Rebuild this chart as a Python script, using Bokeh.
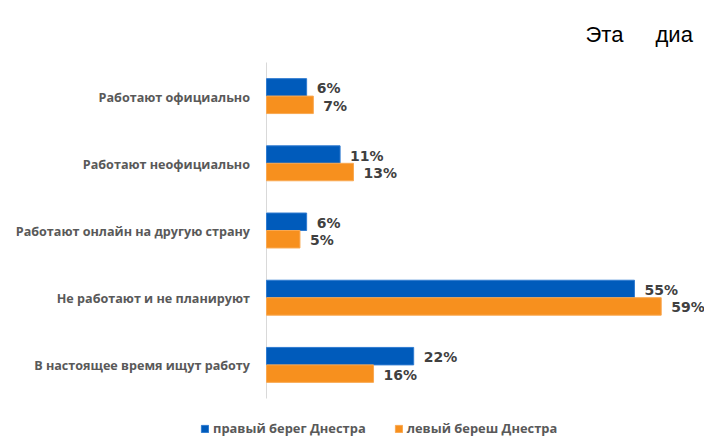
from bokeh.plotting import figure
from bokeh.models import ColumnDataSource, Range1d, Legend, LegendItem
from bokeh.transform import dodge
from bokeh.core.properties import value
from bokeh.embed import file_html
from bokeh.resources import INLINE

categories = [
    "Работают официально",
    "Работают неофициально",
    "Работают онлайн на другую страну",
    "Не работают и не планируют",
    "В настоящее время ищут работу",
]
right_bank = [6, 11, 6, 55, 22]
left_bank = [7, 13, 5, 59, 16]
series_names = ["правый берег Днестра", "левый береш Днестра"]
page_words = ["Эта", "диа"]

BLUE = "#005BBB"
ORANGE = "#F7901E"

# pixel scale: 6.69 px per percent, zero at x=266; 67.2 px per category, first centre at y=95.6
PX_PER_PCT = 6.69
PX_PER_CAT = 67.2
X0 = -266 / PX_PER_PCT
Y_TOP = -95.6 / PX_PER_CAT

def px_x(px):
    return X0 + px / PX_PER_PCT

def px_y(py):
    return Y_TOP + py / PX_PER_CAT

idx = list(range(len(categories)))
src = ColumnDataSource(dict(
    pos=idx,
    cat=categories,
    right=right_bank,
    left=left_bank,
    rlab=[f"{v}%" for v in right_bank],
    llab=[f"{v}%" for v in left_bank],
))

p = figure(width=704, height=438,
           x_range=Range1d(X0, X0 + 704 / PX_PER_PCT),
           y_range=Range1d(Y_TOP + 438 / PX_PER_CAT, Y_TOP),
           output_backend="svg", toolbar_location=None,
           min_border=0)
p.outline_line_color = None
p.xgrid.visible = False
p.ygrid.visible = False
p.xaxis.visible = False
p.yaxis.visible = False
p.background_fill_color = "white"
p.border_fill_color = "white"

# axis line at zero
p.segment(x0=0, x1=0, y0=-0.5, y1=len(categories) - 0.5, line_color="#D9D9D9", line_width=1)

r1 = p.hbar(y=dodge("pos", -0.13), left=0, right="right", height=0.26,
            source=src, fill_color=BLUE, line_color="#2F7BD0", line_width=1)
r2 = p.hbar(y=dodge("pos", 0.13), left=0, right="left", height=0.26,
            source=src, fill_color=ORANGE, line_color="#F9A851", line_width=1)

# category labels
p.text(x=px_x(249.5), y="pos", text="cat", source=src, text_align="right",
       text_baseline="middle", text_font=value("Open Sans"), text_font_style="bold",
       text_font_size="12.6px", text_color="#595959", y_offset=1)

common = dict(source=src, x_offset=10, y_offset=1, text_baseline="middle",
              text_font=value("DejaVu Sans"), text_font_style="bold",
              text_font_size="14px", text_color="#404040")
p.text(x="right", y=dodge("pos", -0.13), text="rlab", **common)
p.text(x="left", y=dodge("pos", 0.13), text="llab", **common)

legend = Legend(items=[LegendItem(label=series_names[0], renderers=[r1]),
                       LegendItem(label=series_names[1], renderers=[r2])],
                orientation="horizontal", location=(200, 1), padding=0,
                border_line_color=None, background_fill_alpha=0,
                glyph_width=9, glyph_height=9, label_standoff=4, spacing=28,
                label_height=9,
                label_text_font="Open Sans", label_text_font_style="bold",
                label_text_font_size="12.9px", label_text_color="#595959", margin=0)
p.add_layout(legend)

p.text(x=[px_x(585), px_x(655)], y=[px_y(34), px_y(34)], text=page_words,
       text_baseline="alphabetic",
       text_font=value("Liberation Sans"), text_font_size="22px", text_color="black")

open("out.html", "w").write(file_html(p, INLINE))
